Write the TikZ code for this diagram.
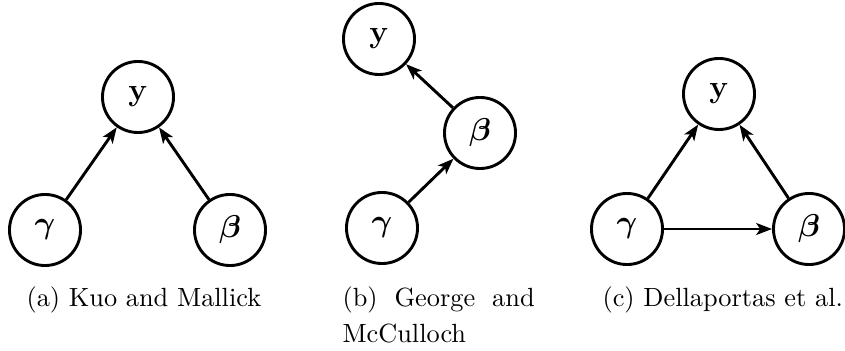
\documentclass[tikz,border=0pt]{standalone}
\usepackage{amsmath,amssymb,bm}
\usetikzlibrary{arrows.meta}
\begin{document}
\begin{tikzpicture}[x=0.38pt,y=-0.38pt,
  var/.style={circle,draw,line width=1.1pt,minimum size=27pt,inner sep=0pt,font=\large},
  edge/.style={line width=1.1pt,-{Stealth[length=6pt,width=4.5pt,inset=1.5pt]}},
  captext/.style={anchor=base west,inner sep=0pt,font=\normalsize}]
  \useasboundingbox (0,0) rectangle (845,351);

  % (a) Kuo and Mallick
  \node[var] (ay) at (138,97) {$\mathbf{y}$};
  \node[var] (ag) at (45,230) {$\bm{\gamma}$};
  \node[var] (ab) at (230,230) {$\bm{\beta}$};
  \draw[edge] (ag) -- (ay);
  \draw[edge] (ab) -- (ay);
  \node[captext] (capa) at (26,307) {(a) Kuo and Mallick};

  % (b) George and McCulloch
  \node[var] (by) at (379,39) {$\mathbf{y}$};
  \node[var] (bb) at (480,133) {$\bm{\beta}$};
  \node[var] (bg) at (382,228) {$\bm{\gamma}$};
  \draw[edge] (bg) -- (bb);
  \draw[edge] (bb) -- (by);
  \node[captext] (capb1) at (342,307) {\makebox[73pt][s]{(b) George and}};
  \node[captext] (capb2) at (342,342) {McCulloch};

  % (c) Dellaportas et al.
  \node[var] (cy) at (719,94) {$\mathbf{y}$};
  \node[var] (cg) at (627,229) {$\bm{\gamma}$};
  \node[var] (cb) at (809,229) {$\bm{\beta}$};
  \draw[edge] (cg) -- (cy);
  \draw[edge] (cb) -- (cy);
  \draw[edge] (cg) -- (cb);
  \node[captext] (capc) at (602,307) {(c) Dellaportas et al.};
\end{tikzpicture}
\end{document}
